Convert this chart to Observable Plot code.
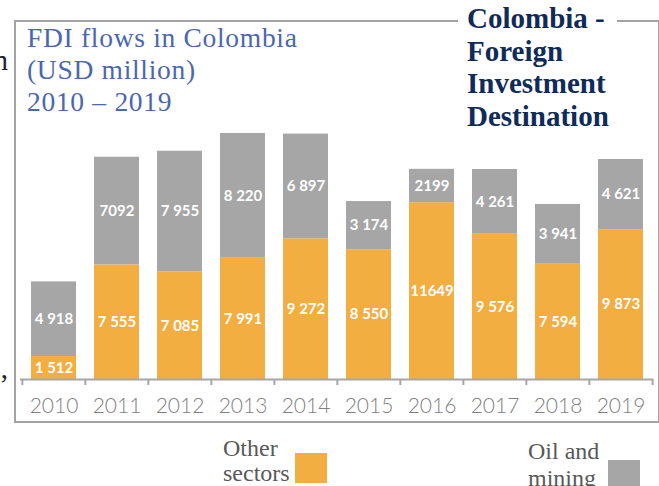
<!DOCTYPE html>
<html>
<head>
<meta charset="utf-8">
<script src="https://cdn.jsdelivr.net/npm/d3@7"></script>
<script src="https://cdn.jsdelivr.net/npm/@observablehq/plot@0.6"></script>
<style>
  html, body { margin: 0; padding: 0; background: #fff; }
  #wrap { position: relative; width: 659px; height: 486px; overflow: hidden; background: #fff; }
  .abs { position: absolute; white-space: pre; }
  #frame { position: absolute; left: 14px; top: 20px; width: 646px; height: 403px; box-sizing: border-box; border: 2px solid #a3a3a3; }
  #chart { position: absolute; left: 0; top: 0; }
  #chart svg { background: transparent !important; overflow: visible; }
  #title { left: 27px; top: 22px; font-family: "Liberation Serif", serif; font-size: 27.5px; letter-spacing: 0.7px; line-height: 32px; color: #4a67b0; }
  #brand { left: 458px; top: 2px; padding: 0 8px 0 9px; background: #fff; font-family: "Liberation Serif", serif; font-weight: bold; font-size: 29px; line-height: 32.5px; color: #0f2b58; }
  .leg { font-family: "Liberation Serif", serif; font-size: 24px; color: #595959; }
  .sw { position: absolute; width: 32px; height: 30px; }
  .cut { font-family: "Liberation Serif", serif; font-size: 29px; line-height: 32px; color: #222; left: -100px; width: 108px; text-align: right; }
</style>
</head>
<body>
<div id="wrap">
  <div id="frame"></div>
  <div id="chart"></div>
  <div class="abs cut" style="top:44px">n</div>
  <div class="abs cut" style="top:352px">,</div>
  <div class="abs" id="title"></div>
  <div class="abs" id="brand"></div>
  <div class="abs leg" id="leg1" style="left:223px; top:436px; line-height:25px"></div>
  <div class="sw" id="sw1" style="left:295px; top:453px; height:30px"></div>
  <div class="abs leg" id="leg2" style="left:528px; top:438px; line-height:27px"></div>
  <div class="sw" id="sw2" style="left:608px; top:460px"></div>
</div>
<script>
// ---- data ----
const years = ["2010", "2011", "2012", "2013", "2014", "2015", "2016", "2017", "2018", "2019"];
const otherSectors = [1512, 7555, 7085, 7991, 9272, 8550, 11649, 9576, 7594, 9873];
const oilMining = [4918, 7092, 7955, 8220, 6897, 3174, 2199, 4261, 3941, 4621];
const otherLabels = ["1 512", "7 555", "7 085", "7 991", "9 272", "8 550", "11649", "9 576", "7 594", "9 873"];
const oilLabels = ["4 918", "7092", "7 955", "8 220", "6 897", "3 174", "2199", "4 261", "3 941", "4 621"];
const seriesNames = ["Other sectors", "Oil and mining"];
const seriesColors = ["#f3ae41", "#a6a6a6"];
const titleText = "FDI flows in Colombia\n(USD million)\n2010 – 2019";
const brandText = "Colombia -\nForeign\nInvestment\nDestination";
const legendText = ["Other\nsectors", "Oil and\nmining"];

const rows = years.flatMap((y, i) => [
  {year: y, sector: seriesNames[0], value: otherSectors[i], label: otherLabels[i]},
  {year: y, sector: seriesNames[1], value: oilMining[i], label: oilLabels[i]}
]);

// ---- layout ----
const W = 659, H = 430, mL = 20, mR = 6;
const halfStep = (W - mL - mR) / years.length / 2;
const axisColor = "#a6a6a6";

const chart = Plot.plot({
  width: W, height: H,
  marginLeft: mL, marginRight: mR, marginTop: 121, marginBottom: 51,
  style: {background: "transparent", fontFamily: "Lato, sans-serif"},
  x: {domain: years, paddingInner: 0.29, paddingOuter: 0.145, axis: null},
  y: {domain: [0, 17000], axis: null},
  color: {domain: seriesNames, range: seriesColors},
  marks: [
    Plot.barY(rows, {x: "year", y: "value", fill: "sector"}),
    Plot.text(rows, Plot.stackY({x: "year", y: "value", z: "sector", text: "label",
      fill: "white", fontWeight: "bold", fontSize: 15, fontFamily: "Lato, sans-serif"})),
    Plot.ruleY([0], {stroke: axisColor, strokeWidth: 2}),
    Plot.axisX({tickSize: 6, dx: -halfStep, stroke: axisColor, strokeWidth: 2, tickFormat: () => "", label: null}),
    Plot.axisX([years[years.length - 1]], {tickSize: 6, dx: halfStep, stroke: axisColor, strokeWidth: 2, tickFormat: () => "", label: null}),
    Plot.axisX({tickSize: 0, tickPadding: 19, fontSize: 21, fill: "#7f7f7f", fontWeight: 300, fontFamily: "Lato, sans-serif", label: null})
  ]
});
document.getElementById("chart").appendChild(chart);

document.getElementById("title").textContent = titleText;
document.getElementById("brand").textContent = brandText;
document.getElementById("leg1").textContent = legendText[0];
document.getElementById("leg2").textContent = legendText[1];
document.getElementById("sw1").style.background = seriesColors[0];
document.getElementById("sw2").style.background = seriesColors[1];
</script>
</body>
</html>
